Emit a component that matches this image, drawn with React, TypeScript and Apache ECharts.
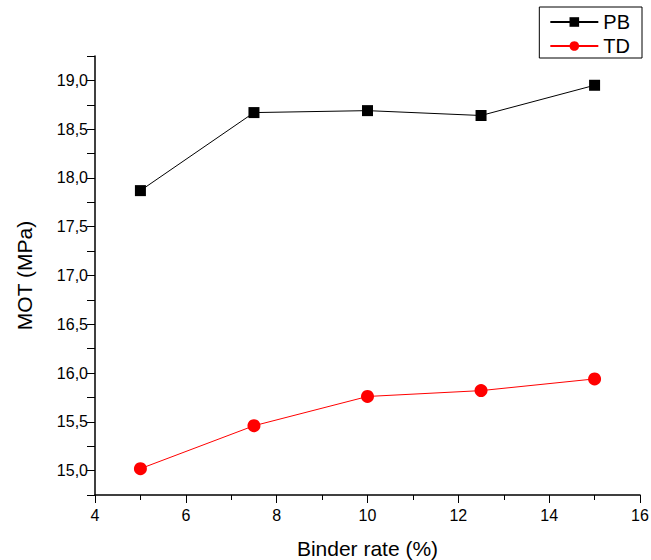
import React, { useEffect, useRef } from "react";
import * as echarts from "echarts";

const binderRate = [5, 7.5, 10, 12.5, 15];
const pbValues = [17.87, 18.67, 18.69, 18.64, 18.95];
const tdValues = [15.02, 15.46, 15.76, 15.82, 15.94];
const seriesNames = ["PB", "TD"];

export default function App() {
  const ref = useRef<HTMLDivElement>(null);
  useEffect(() => {
    if (!ref.current) return;
    const chart = echarts.init(ref.current, null, { renderer: "svg" });
    const font = "'Liberation Sans', Arial, sans-serif";
    chart.setOption({
      animation: false,
      backgroundColor: "#ffffff",
      textStyle: { fontFamily: font },
      grid: { left: 95, right: 11, top: 56, bottom: 65, containLabel: false, outerBoundsMode: "none" },
      legend: {
        right: 9,
        top: 7,
        orient: "vertical",
        data: seriesNames,
        itemWidth: 48,
        itemHeight: 12,
        itemGap: 4,
        padding: [5, 12, 2, 10],
        borderColor: "#000",
        borderWidth: 1,
        textStyle: { fontFamily: font, fontSize: 20, color: "#000" },
      },
      xAxis: {
        type: "value",
        min: 4,
        max: 16,
        interval: 2,
        name: "Binder rate (%)",
        nameLocation: "middle",
        nameGap: 43,
        nameTextStyle: { fontFamily: font, fontSize: 21, color: "#000" },
        axisLine: { show: true, onZero: false, lineStyle: { color: "#000", width: 1.5 } },
        axisTick: { show: true, inside: false, length: 8, lineStyle: { color: "#000" } },
        minorTick: { show: true, splitNumber: 2, length: 5, lineStyle: { color: "#000" } },
        axisLabel: { fontFamily: font, fontSize: 16, color: "#000", margin: 12 },
        splitLine: { show: false },
      },
      yAxis: {
        type: "value",
        min: 14.75,
        max: 19.25,
        interval: 0.25,
        name: "MOT (MPa)",
        nameLocation: "middle",
        nameGap: 60,
        nameTextStyle: { fontFamily: font, fontSize: 21, color: "#000" },
        axisLine: { show: true, onZero: false, lineStyle: { color: "#000", width: 1.5 } },
        axisTick: {
          show: true,
          inside: false,
          length: 8,
          lineStyle: { color: "#000" },
        },
        axisLabel: {
          fontFamily: font,
          fontSize: 16,
          color: "#000",
          margin: 7,
          formatter: (v: number) => {
            const r = Math.round(v * 100) / 100;
            if (Math.abs(r * 2 - Math.round(r * 2)) > 1e-6) return "";
            if (r < 14.99 || r > 19.01) return "";
            return r.toFixed(1).replace(".", ",");
          },
        },
        splitLine: { show: false },
      },
      series: [
        {
          name: seriesNames[0],
          type: "line",
          data: binderRate.map((x, i) => [x, pbValues[i]]),
          symbol: "rect",
          symbolSize: 11,
          itemStyle: { color: "#000" },
          lineStyle: { color: "#000", width: 1 },
        },
        {
          name: seriesNames[1],
          type: "line",
          data: binderRate.map((x, i) => [x, tdValues[i]]),
          symbol: "circle",
          symbolSize: 13,
          itemStyle: { color: "#ff0000" },
          lineStyle: { color: "#ff0000", width: 1 },
        },
      ],
    });
    return () => chart.dispose();
  }, []);
  return <div ref={ref} style={{ width: 651, height: 560, position: "absolute", left: 0, top: 0 }} />;
}
